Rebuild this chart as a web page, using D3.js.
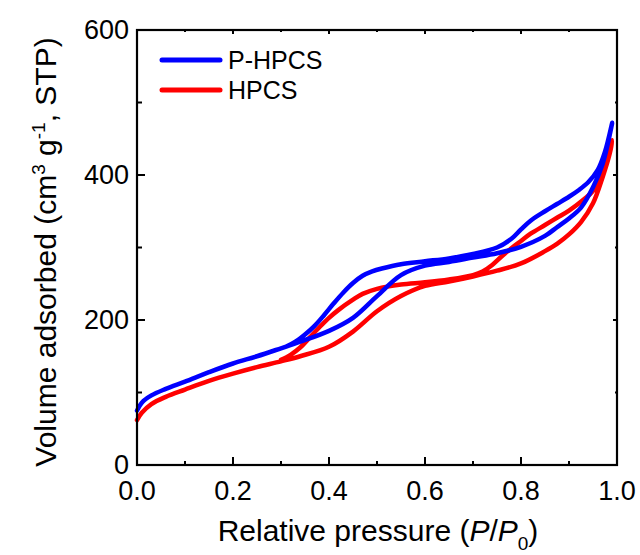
<!DOCTYPE html>
<html><head><meta charset="utf-8">
<script src="https://cdn.jsdelivr.net/npm/d3@7"></script>
<style>body{margin:0;background:#fff}svg{display:block}text{font-family:"Liberation Sans",Arial,sans-serif;fill:#000}</style>
</head><body><svg id="c" width="640" height="555"></svg>
<script>
// P-HPCS adsorption branch [P/P0, V]
const phpcsAds = [[0.0,75],[0.01,86],[0.03,96],[0.06,105],[0.10,115],[0.15,128],[0.20,140],[0.25,150],[0.30,161],[0.34,170],[0.40,185],[0.45,203],[0.50,233],[0.55,262],[0.60,275],[0.65,280],[0.70,286],[0.75,292],[0.80,301],[0.85,316],[0.875,328],[0.90,340],[0.925,355],[0.95,383],[0.97,415],[0.99,472]];
// P-HPCS desorption branch
const phpcsDes = [[0.99,474],[0.975,432],[0.96,407],[0.94,390],[0.92,379],[0.90,370],[0.875,360],[0.85,350],[0.82,337],[0.80,325],[0.78,312],[0.75,300],[0.70,291],[0.65,285],[0.60,281],[0.55,277],[0.51,271],[0.49,267],[0.47,261],[0.45,251],[0.43,238],[0.41,223],[0.39,207],[0.37,192],[0.35,180],[0.33,170],[0.31,163]];
// HPCS adsorption branch
const hpcsAds = [[0.0,62],[0.01,72],[0.03,84],[0.06,94],[0.10,104],[0.15,116],[0.20,126],[0.25,135],[0.30,143],[0.34,150],[0.40,163],[0.45,184],[0.50,212],[0.55,233],[0.60,247],[0.65,253],[0.70,260],[0.75,268],[0.80,278],[0.85,295],[0.875,305],[0.90,318],[0.925,335],[0.95,361],[0.97,397],[0.985,430],[0.99,448]];
// HPCS desorption branch
const hpcsDes = [[0.99,448],[0.97,407],[0.95,378],[0.93,366],[0.90,351],[0.875,341],[0.85,331],[0.82,319],[0.80,309],[0.78,299],[0.76,288],[0.74,276],[0.72,267],[0.70,262],[0.65,256],[0.60,252],[0.55,249],[0.50,243],[0.47,236],[0.45,228],[0.42,214],[0.40,203],[0.38,190],[0.36,176],[0.34,162],[0.32,152],[0.30,145]];
const seriesNames = ["P-HPCS","HPCS"];
const seriesColors = ["#0000ff","#ff0000"];
const xTicks = [0,0.2,0.4,0.6,0.8,1.0];
const yTicks = [0,200,400,600];

const svg = d3.select("#c");
const L=137,T=30,R=617,B=465;
const x = d3.scaleLinear().domain([0,1]).range([L,R]);
const y = d3.scaleLinear().domain([0,600]).range([B,T]);

const line = d3.line().x(d=>x(d[0])).y(d=>y(d[1])).curve(d3.curveCatmullRom.alpha(0.5));
const series = [phpcsAds.concat(phpcsDes.slice(1)), hpcsAds.concat(hpcsDes.slice(1))];
[1,0].forEach(i=>{
  svg.append("path").attr("d",line(series[i])).attr("fill","none")
    .attr("stroke",seriesColors[i]).attr("stroke-width",4.5).attr("stroke-linejoin","round").attr("stroke-linecap","round");
});

// axes
const g = svg.append("g");
const xMinor = d3.range(0,11).map(i=>i/10);
const yMinor = d3.range(0,7).map(i=>i*100);
xMinor.forEach((v,i)=>{
  const major = i%2===0;
  g.append("line").attr("x1",x(v)).attr("x2",x(v)).attr("y1",B).attr("y2",B-(major?8:4)).attr("stroke","#000").attr("stroke-width",2);
  g.append("line").attr("x1",x(v)).attr("x2",x(v)).attr("y1",T).attr("y2",T+(major?4:2)).attr("stroke","#000").attr("stroke-width",2);
});
yMinor.forEach((v,i)=>{
  const major = i%2===0;
  g.append("line").attr("x1",L).attr("x2",L+(major?8:5)).attr("y1",y(v)).attr("y2",y(v)).attr("stroke","#000").attr("stroke-width",2);
  g.append("line").attr("x1",R).attr("x2",R-(major?4:2)).attr("y1",y(v)).attr("y2",y(v)).attr("stroke","#000").attr("stroke-width",2);
});
g.append("rect").attr("x",L).attr("y",T).attr("width",R-L).attr("height",B-T).attr("fill","none").attr("stroke","#000").attr("stroke-width",2.2);

g.selectAll(".xl").data(xTicks).enter().append("text").attr("x",d=>x(d)).attr("y",B+35)
  .attr("text-anchor","middle").attr("font-size",27).text(d=>d.toFixed(1));
g.selectAll(".yl").data(yTicks).enter().append("text").attr("x",L-8).attr("y",d=>y(d)+9)
  .attr("text-anchor","end").attr("font-size",27).text(d=>d);

// x title
const xt = svg.append("text").attr("x",378).attr("y",541).attr("text-anchor","middle").attr("font-size",30);
xt.append("tspan").text("Relative pressure (");
xt.append("tspan").attr("font-style","italic").text("P");
xt.append("tspan").text("/");
xt.append("tspan").attr("font-style","italic").text("P");
xt.append("tspan").attr("font-size",19).attr("dy",9).text("0");
xt.append("tspan").attr("dy",-9).text(")");

// y title
const yt = svg.append("text").attr("transform","translate(56,252) rotate(-90)").attr("text-anchor","middle").attr("font-size",30);
yt.append("tspan").text("Volume adsorbed (cm");
yt.append("tspan").attr("font-size",19).attr("dy",-11).text("3");
yt.append("tspan").attr("dy",11).text(" g");
yt.append("tspan").attr("font-size",19).attr("dy",-11).text("-1");
yt.append("tspan").attr("dy",11).text(", STP)");

// legend
seriesNames.forEach((n,i)=>{
  const ly = 60 + i*30;
  svg.append("line").attr("x1",162).attr("x2",220).attr("y1",ly).attr("y2",ly)
    .attr("stroke",seriesColors[i]).attr("stroke-width",5).attr("stroke-linecap","round");
  svg.append("text").attr("x",228).attr("y",ly+9).attr("font-size",25).text(n);
});
</script></body></html>
